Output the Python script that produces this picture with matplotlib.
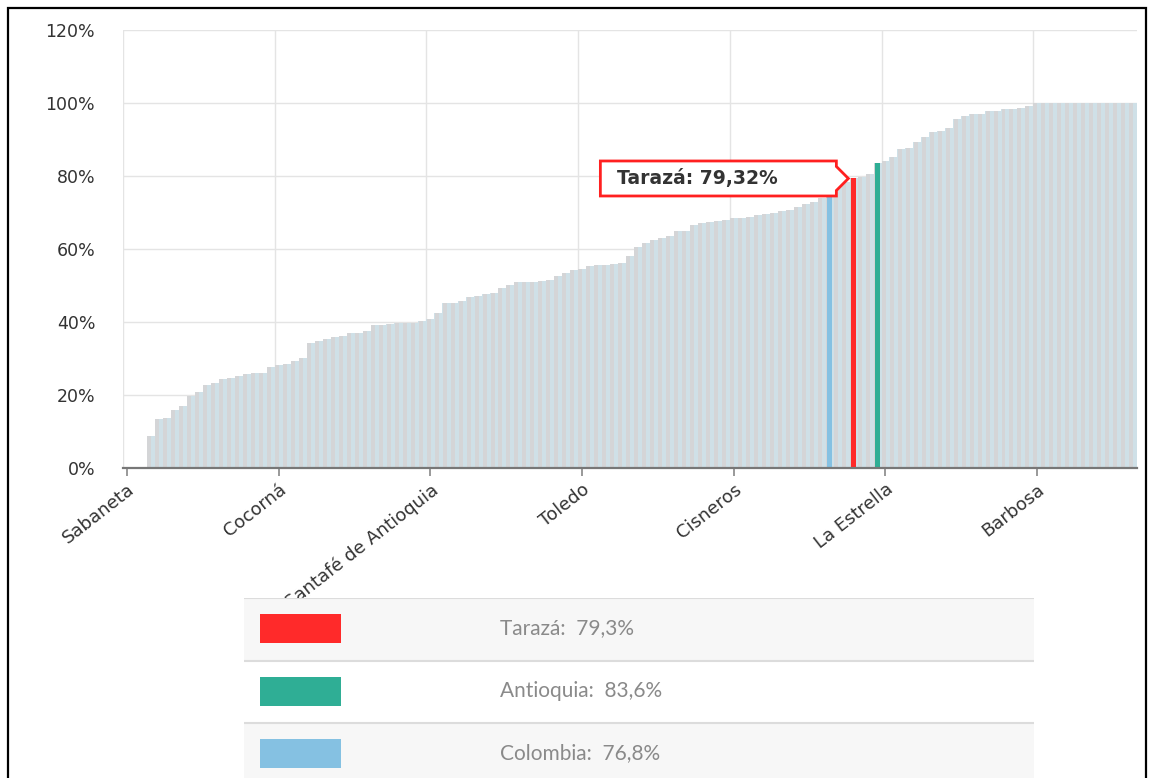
import matplotlib
matplotlib.use("Agg")
import matplotlib.pyplot as plt
from matplotlib.patches import Rectangle, Polygon
from matplotlib.transforms import IdentityTransform
import numpy as np

plt.rcParams['font.family'] = ['DejaVu Sans']

# ---------------- data ----------------
values = [0, 0, 0,
          8.8, 13.3, 13.8, 15.9, 17.0, 19.8, 20.7, 22.7, 23.2, 24.3,
          24.7, 25.2, 25.7, 26.0, 26.1, 27.6, 28.3, 28.4, 29.3, 30.1,
          34.2, 34.9, 35.3, 35.8, 36.3, 37.0, 37.1, 37.4, 39.2, 39.3,
          39.5, 39.6, 39.6, 39.7, 40.4, 40.8, 42.4, 45.2, 45.3, 45.7,
          46.8, 47.2, 47.7, 48.0, 49.3, 50.1, 50.9, 51.0, 51.0, 51.1,
          51.4, 52.6, 53.5, 54.2, 54.6, 55.4, 55.5, 55.5, 56.0, 56.3,
          58.1, 60.5, 61.7, 62.5, 62.9, 63.6, 64.8, 64.9, 66.6, 67.2,
          67.3, 67.7, 67.9, 68.4, 68.6, 68.9, 69.2, 69.5, 69.9, 70.3,
          70.8, 71.5, 72.3, 73.0, 74.0, 76.8, 77.3, 78.4, 79.32, 79.6,
          80.6, 83.6, 84.0, 85.1, 87.5, 87.6, 89.3, 90.8, 92.1, 92.4,
          93.2, 95.6, 96.4, 97.0, 97.1, 97.7, 97.7, 98.4, 98.4, 98.6,
          99.1] + [100] * 13

tick_labels = ['Sabaneta', 'Cocorná', 'Santafé de Antioquia', 'Toledo',
               'Cisneros', 'La Estrella', 'Barbosa']
label_step = 19

highlight_names = ['Tarazá', 'Antioquia', 'Colombia']
highlight_values = [79.32, 83.6, 76.8]
highlight_colors = ['#ff2a2a', '#2fae95', '#85c1e2']
highlight_widths = [0.55, 0.7, 0.7]
legend_texts = ['Tarazá:  79,3%', 'Antioquia:  83,6%', 'Colombia:  76,8%']
tooltip_text = 'Tarazá: 79,32%'

y_ticks = [0, 20, 40, 60, 80, 100, 120]

# ---------------- figure ----------------
W, H = 1151, 778
fig = plt.figure(figsize=(W / 100, H / 100), dpi=100)
fig.patch.set_facecolor('white')

def fx(px):
    return px / W

def fy(py):
    return 1 - py / H

ax = fig.add_axes([fx(123), fy(468), fx(1137) - fx(123), fy(30) - fy(468)])
n = len(values)
x = np.arange(n)

ax.bar(x, values, width=1.0, color='#cfe0e7', linewidth=0, zorder=2)
ax.bar(x - 0.22, values, width=0.5, color='#d4d5d7', linewidth=0, zorder=2)

for name, v, c, w in zip(highlight_names, highlight_values, highlight_colors, highlight_widths):
    i = values.index(v)
    ax.bar(i, v, width=w, color=c, linewidth=0, zorder=3)

ax.set_xlim(-0.5, n - 0.5)
ax.set_ylim(0, 120)

ax.set_yticks(y_ticks)
ax.set_yticklabels([f'{t}%' for t in y_ticks])
ax.tick_params(axis='y', length=0, pad=20, labelsize=12.5, labelcolor='#333333')
for t in y_ticks:
    ax.axhline(t, color='#e4e4e4', lw=1.0, zorder=1)

tick_pos = [k * label_step for k in range(len(tick_labels))]
ax.set_xticks(tick_pos)
ax.set_xticklabels(tick_labels, rotation=38, ha='right', rotation_mode='anchor')
ax.tick_params(axis='x', length=6, width=1.2, color='#888888', pad=3,
               labelsize=13, labelcolor='#333333')
for p in tick_pos:
    ax.axvline(p - 0.5, color='#e4e4e4', lw=1.0, zorder=1)

for s in ['top', 'right', 'left']:
    ax.spines[s].set_visible(False)
ax.spines['bottom'].set_color('#777777')
ax.spines['bottom'].set_linewidth(1.6)
ax.spines['bottom'].set_zorder(4)

# ---------------- tooltip ----------------
fig.canvas.draw()
ti = values.index(highlight_values[0])
axp, ayp = ax.transData.transform((ti - 0.65, highlight_values[0]))
pts = [(axp - 248, ayp + 17.5), (axp - 12, ayp + 17.5), (axp - 12, ayp + 12),
       (axp, ayp), (axp - 12, ayp - 12), (axp - 12, ayp - 17.5),
       (axp - 248, ayp - 17.5)]
tip = Polygon(pts, closed=True, facecolor='white', edgecolor='#ff2020',
              linewidth=2.0, transform=IdentityTransform(), zorder=10)
fig.add_artist(tip)
fig.text((axp - 231) / W, (ayp) / H, tooltip_text, fontsize=13.5, fontweight='bold',
         color='#333333', ha='left', va='center', zorder=11)

# ---------------- legend table ----------------
lax = fig.add_axes([fx(244), fy(778), fx(1034) - fx(244), fy(598) - fy(778)])
lax.set_zorder(5)
lax.set_xlim(244, 1034)
lax.set_ylim(778, 598)
lax.axis('off')
rows = [(598, 661, '#f7f7f7'), (661, 723, '#ffffff'), (723, 778, '#f7f7f7')]
for (top, bot, bg), c, txt in zip(rows, highlight_colors, legend_texts):
    lax.add_patch(Rectangle((244, top), 790, bot - top, facecolor=bg,
                            edgecolor='none', zorder=1))
    lax.plot([244, 1034], [top, top], color='#dcdcdc', lw=1.5, zorder=2)
    cy = top + 30
    lax.add_patch(Rectangle((260, cy - 14.5), 81, 29, facecolor=c,
                            edgecolor='none', zorder=3))
    lax.text(500, cy, txt, fontsize=15, color='#8a8a8a', ha='left', va='center',
             family=['Lato', 'DejaVu Sans'], zorder=4)

# ---------------- outer frame ----------------
frame = Rectangle((fx(8), -0.05), fx(1146) - fx(8), fy(8) + 0.05, transform=fig.transFigure,
                  facecolor='none', edgecolor='black', linewidth=1.6, zorder=20)
fig.add_artist(frame)

fig.savefig('out.png', dpi=100, facecolor='white')
